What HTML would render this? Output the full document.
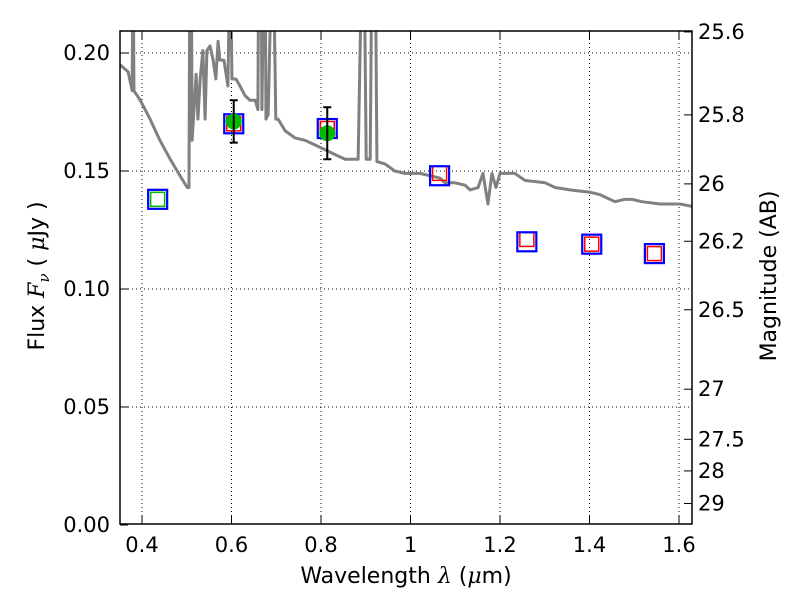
<!DOCTYPE html>
<html><head><meta charset="utf-8"><style>
body{margin:0;background:#fff;}
svg text{font-family:"DejaVu Sans","Liberation Sans",sans-serif;fill:#000;}
</style></head><body>
<svg id="chart" width="800" height="600" xmlns="http://www.w3.org/2000/svg">
<rect width="800" height="600" fill="#fff"/>
<defs><clipPath id="clip"><rect x="120" y="31" width="572" height="493"/></clipPath></defs>
<g id="grid"></g>
<g id="spec" clip-path="url(#clip)"></g>
<g id="marks"></g>
<rect x="120" y="31" width="572" height="493" fill="none" stroke="#000" stroke-width="1.5"/>
<g id="axes"></g>
<text x="406" y="583" font-size="22" text-anchor="middle">Wavelength  <tspan font-family="DejaVu Serif" font-style="italic">λ</tspan> (<tspan font-family="DejaVu Serif" font-style="italic">μ</tspan>m)</text>
<text transform="translate(44,276) rotate(-90)" font-size="22" text-anchor="middle">Flux  <tspan font-family="DejaVu Serif" font-style="italic">F<tspan font-size="15" dy="5">ν</tspan></tspan><tspan dy="-5">  ( </tspan><tspan font-family="DejaVu Serif" font-style="italic">μ</tspan>Jy )</text>
<text transform="translate(776,276) rotate(-90)" font-size="22" text-anchor="middle">Magnitude (AB)</text>
</svg>
<script>
const xTicks=[0.4,0.6,0.8,1.0,1.2,1.4,1.6];
const xTickLabels=["0.4","0.6","0.8","1","1.2","1.4","1.6"];
const yTicks=[0,0.05,0.10,0.15,0.20];
const yTickLabels=["0.00","0.05","0.10","0.15","0.20"];
const magTicks=[25.6,25.8,26,26.2,26.5,27,27.5,28,29];
const magTickLabels=["25.6","25.8","26","26.2","26.5","27","27.5","28","29"];
const specLam=[0.351,0.369,0.378,0.380,0.382,0.396,0.418,0.440,0.463,0.485,0.501,0.505,0.507,0.510,0.512,0.521,0.525,0.530,0.536,0.541,0.545,0.552,0.559,0.565,0.570,0.574,0.583,0.588,0.592,0.597,0.601,0.610,0.619,0.630,0.641,0.653,0.659,0.661,0.664,0.666,0.668,0.673,0.675,0.677,0.682,0.691,0.693,0.699,0.704,0.720,0.742,0.764,0.787,0.809,0.831,0.854,0.883,0.892,0.896,0.901,0.910,0.914,0.921,0.925,0.943,0.965,0.988,1.021,1.066,1.077,1.099,1.122,1.133,1.151,1.162,1.173,1.182,1.191,1.200,1.233,1.256,1.301,1.323,1.356,1.401,1.423,1.457,1.479,1.495,1.517,1.558,1.603,1.629];
const specFlux=[0.195,0.192,0.184,0.25,0.184,0.180,0.172,0.163,0.155,0.148,0.143,0.143,0.25,0.25,0.163,0.191,0.172,0.189,0.201,0.172,0.201,0.203,0.197,0.189,0.205,0.197,0.197,0.191,0.186,0.25,0.189,0.189,0.186,0.182,0.180,0.180,0.176,0.25,0.25,0.25,0.176,0.25,0.25,0.172,0.174,0.25,0.25,0.172,0.172,0.167,0.164,0.163,0.161,0.159,0.157,0.155,0.155,0.25,0.25,0.155,0.155,0.25,0.25,0.154,0.153,0.150,0.149,0.149,0.147,0.145,0.145,0.144,0.142,0.143,0.149,0.136,0.149,0.143,0.149,0.149,0.146,0.145,0.143,0.142,0.141,0.140,0.137,0.138,0.138,0.137,0.136,0.136,0.135];
const obsLam=[0.435,0.605,0.814,1.065,1.26,1.405,1.545];
const obsFlux=[0.138,0.170,0.168,0.148,0.120,0.119,0.115];
const modelFlux=[0.138,0.170,0.168,0.149,0.121,0.119,0.115];
const measLam=[0.605,0.814];
const measFlux=[0.171,0.166];
const measErr=[0.009,0.011];

const X0=142,XS=447.5,Y0=525,YS=2360;
const sx=l=>X0+(l-0.4)*XS, sy=f=>Y0-f*YS;
const magToFlux=m=>Math.pow(10,(23.9-m)/2.5);
const NS="http://www.w3.org/2000/svg";
function mk(tag,parent,attrs){const e=document.createElementNS(NS,tag);for(const k in attrs)e.setAttribute(k,attrs[k]);parent.appendChild(e);return e;}
const grid=document.getElementById('grid'),axes=document.getElementById('axes'),spec=document.getElementById('spec'),marks=document.getElementById('marks');
xTicks.forEach((t,i)=>{const x=sx(t);
 const g=mk('line',grid,{x1:x,x2:x,y1:31,y2:524,stroke:'#000','stroke-dasharray':'1,3','stroke-width':1});
 
 mk('line',axes,{x1:x,x2:x,y1:524,y2:516,stroke:'#000'});mk('line',axes,{x1:x,x2:x,y1:31,y2:39,stroke:'#000'});
 const tx=mk('text',axes,{x:x,y:552,'font-size':21,'text-anchor':'middle'});tx.textContent=xTickLabels[i];
 });
yTicks.forEach((t,i)=>{const y=sy(t);
 if(t>0&&t<0.21){const g=mk('line',grid,{x1:120,x2:692,y1:y,y2:y,stroke:'#000','stroke-dasharray':'1,3','stroke-width':1});
 }
 mk('line',axes,{x1:120,x2:128,y1:y,y2:y,stroke:'#000'});
 const tx=mk('text',axes,{x:110,y:y+7,'font-size':21,'text-anchor':'end'});tx.textContent=yTickLabels[i];
 });
magTicks.forEach((m,i)=>{const y=Math.max(31,sy(magToFlux(m)));
 mk('line',axes,{x1:692,x2:684,y1:y,y2:y,stroke:'#000'});
 const tx=mk('text',axes,{x:698,y:y+7,'font-size':21});tx.textContent=magTickLabels[i];
 });
const pl=mk('polyline',spec,{points:specLam.map((l,i)=>sx(l)+','+sy(specFlux[i])).join(' '),fill:'none',stroke:'#808080','stroke-width':3,'stroke-linejoin':'round'});

obsLam.forEach((l,i)=>{const x=sx(l),y=sy(obsFlux[i]),ym=sy(modelFlux[i]);
 const inner=mk('rect',marks,{x:x-7,y:ym-7,width:14,height:14,fill:'none',stroke:i==0?'#00bb00':'#ff0000','stroke-width':1.5});
 
 const r=mk('rect',marks,{x:x-9.5,y:y-9.5,width:19,height:19,fill:'none',stroke:'#0000ff','stroke-width':2.2});
 });
measLam.forEach((l,i)=>{const x=sx(l),y=sy(measFlux[i]),y1=sy(measFlux[i]+measErr[i]),y2=sy(measFlux[i]-measErr[i]);
 const c=mk('circle',marks,{cx:x,cy:y,r:8,fill:'#00bb00'});
 
 const e=mk('path',marks,{d:`M${x},${y1}V${y2}M${x-4},${y1}H${x+4}M${x-4},${y2}H${x+4}`,stroke:'#000','stroke-width':2,fill:'none'});
 });
</script>
</body></html>
